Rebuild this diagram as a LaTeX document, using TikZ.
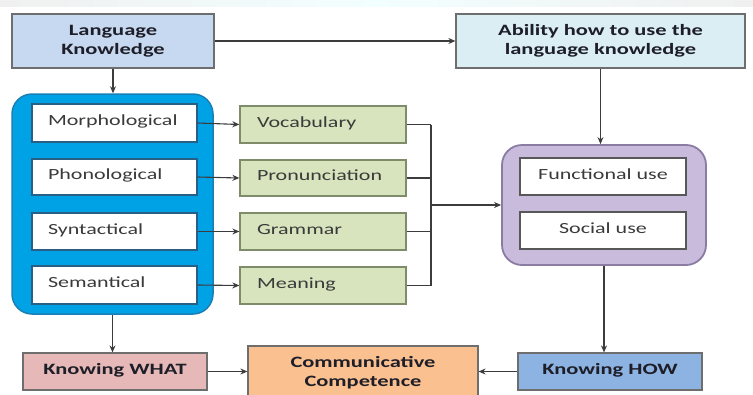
\documentclass[tikz,border=0pt]{standalone}
\usepackage{fontspec}
\setmainfont{Carlito}[FakeStretch=1.42]
\usetikzlibrary{arrows.meta}
\definecolor{lkfill}{HTML}{C6D9F1}
\definecolor{abfill}{HTML}{DBEEF4}
\definecolor{bluebg}{HTML}{00A2E6}
\definecolor{blueedge}{HTML}{1A7FB5}
\definecolor{whiteedge}{HTML}{2A5F85}
\definecolor{greenfill}{HTML}{D7E4BD}
\definecolor{greenedge}{HTML}{7F8C6A}
\definecolor{purplefill}{HTML}{C9BBDB}
\definecolor{purpleedge}{HTML}{8A7CA3}
\definecolor{pinkfill}{HTML}{E6B9B8}
\definecolor{orangefill}{HTML}{FAC090}
\definecolor{howfill}{HTML}{8DB3E2}
\definecolor{boxedge}{HTML}{6E6E6E}
\definecolor{linecol}{HTML}{3C3C3C}
\definecolor{txt}{HTML}{3A3A3A}
\definecolor{btxt}{HTML}{1E1E28}
\tikzset{
  base/.style={inner sep=0pt, font=\fontsize{15.5}{19}\selectfont},
  one/.style={text height=9pt, text depth=4pt},
  titlebox/.style={base, draw=boxedge, line width=1.2pt, align=center, text=btxt, font=\fontsize{15.8}{19}\selectfont\bfseries},
  whitebox/.style={base, one, draw=whiteedge, fill=white, line width=1.3pt, minimum width=165pt, text width=133pt, inner xsep=16pt, align=left, text=txt},
  greenbox/.style={base, one, draw=greenedge, fill=greenfill, line width=1.3pt, minimum width=166pt, text width=132pt, inner xsep=17pt, align=left, text=txt},
  purplewhite/.style={base, one, draw=boxedge!80!black, fill=white, line width=1.3pt, minimum width=166pt, align=center, text=txt},
  conn/.style={draw=linecol, line width=1.1pt},
  arr/.style={conn, -{Stealth[length=7pt,width=6pt]}},
}
\begin{document}
\begin{tikzpicture}[x=1pt,y=-1pt]
\useasboundingbox (0,0) rectangle (753,394);
\clip (0,0) rectangle (753,394);
\shade[left color=gray!12, right color=cyan!5] (0,0) rectangle (376,6);
\shade[left color=cyan!5, right color=gray!12] (376,0) rectangle (753,6);
% top boxes
\node[titlebox, fill=lkfill, minimum width=202pt, minimum height=54pt] (lk) at (113,41) {Language\\Knowledge};
\node[titlebox, fill=abfill, minimum width=289pt, minimum height=54pt] (ab) at (600.5,41) {Ability how to use the\\language knowledge};
% blue container
\node[draw=blueedge, fill=bluebg, line width=1.5pt, rounded corners=20pt, minimum width=201pt, minimum height=220pt, inner sep=0pt] (bb) at (112.5,204) {};
\node[whitebox, minimum height=38pt] (w1) at (114.5,123) {Morphological};
\node[whitebox, minimum height=36pt] (w2) at (114.5,177) {Phonological};
\node[whitebox, minimum height=37pt] (w3) at (114.5,231.5) {Syntactical};
\node[whitebox, minimum height=38pt] (w4) at (114.5,285) {Semantical};
% green
\node[greenbox, minimum height=37pt] (g1) at (323,124.5) {Vocabulary};
\node[greenbox, minimum height=36pt] (g2) at (323,178) {Pronunciation};
\node[greenbox, minimum height=37pt] (g3) at (323,231.5) {Grammar};
\node[greenbox, minimum height=37pt] (g4) at (323,285.5) {Meaning};
% purple container
\node[draw=purpleedge, fill=purplefill, line width=1.8pt, rounded corners=20pt, minimum width=204pt, minimum height=120pt, inner sep=0pt] (pu) at (604,205) {};
\node[purplewhite, minimum height=37pt] (f1) at (603,176.5) {Functional use};
\node[purplewhite, minimum height=37pt] (f2) at (603,230.5) {Social use};
% bottom
\node[titlebox, one, fill=pinkfill, minimum width=184pt, minimum height=37pt] (kw) at (115,371.5) {Knowing WHAT};
\node[titlebox, fill=orangefill, minimum width=230pt, minimum height=54pt] (cc) at (363,373) {Communicative\\Competence};
\node[titlebox, one, fill=howfill, minimum width=184pt, minimum height=37pt] (kh) at (610,371.5) {Knowing HOW};
% connectors
\draw[arr] (lk.east) -- (ab.west);
\draw[arr] (lk.south) -- (lk.south |- bb.north);
\foreach \i in {1,2,3,4} {\draw[arr] (w\i.east) -- (g\i.west);}
\coordinate (jx) at (431,0);
\coordinate (jt) at (jx |- g1.east);
\coordinate (jb) at (jx |- g4.east);
\foreach \i in {1,2,3,4} {\draw[conn] (g\i.east) -- (jx |- g\i.east);}
\draw[conn] (jt) -- (jb);
\draw[arr] (jx |- pu.west) -- (pu.west);
\draw[arr] (ab.south) -- (ab.south |- pu.north);
\draw[arr] (pu.south) -- (pu.south |- kh.north);
\draw[arr] (bb.south) -- (bb.south |- kw.north);
\draw[arr] (kw.east) -- (kw.east -| cc.west);
\draw[arr] (kh.west) -- (kh.west -| cc.east);
\end{tikzpicture}
\end{document}
